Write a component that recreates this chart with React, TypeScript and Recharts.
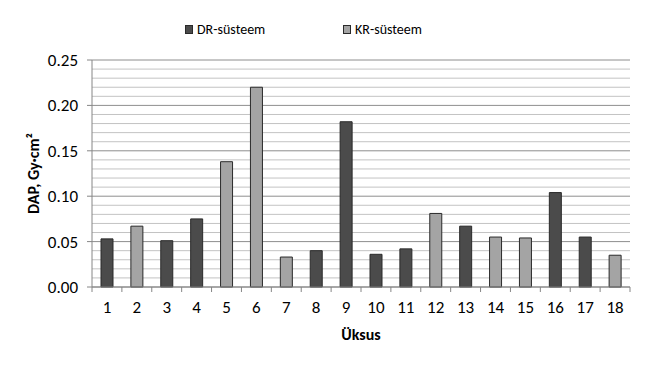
import React from 'react';
import { BarChart, Bar, XAxis, YAxis, CartesianGrid } from 'recharts';

const categories = ['1', '2', '3', '4', '5', '6', '7', '8', '9', '10', '11', '12', '13', '14', '15', '16', '17', '18'];
const drValues: (number | null)[] = [0.053, null, 0.051, 0.075, null, null, null, 0.040, 0.182, 0.036, 0.042, null, 0.067, null, null, 0.104, 0.055, null];
const krValues: (number | null)[] = [null, 0.067, null, null, 0.138, 0.220, 0.033, null, null, null, null, 0.081, null, 0.055, 0.054, null, null, 0.035];
const yTicks = [0, 0.05, 0.1, 0.15, 0.2, 0.25];
const minorGrid = [0.01, 0.02, 0.03, 0.04, 0.06, 0.07, 0.08, 0.09, 0.11, 0.12, 0.13, 0.14, 0.16, 0.17, 0.18, 0.19, 0.21, 0.22, 0.23, 0.24];
const seriesNames = ['DR-süsteem', 'KR-süsteem'];
const Y_MAX = 0.25;

const DR_COLOR = '#4b4b4b';
const KR_COLOR = '#a4a4a4';
const EDGE = '#2a2a2a';
const AXIS = '#868686';
const FONT = 'Carlito, Lato, sans-serif';

const data = categories.map((c, i) => ({ name: c, dr: drValues[i], kr: krValues[i] }));

const XTick = (props: any) => {
  const { x, y, payload, index, width } = props;
  const half = Number.isFinite(width) && width > 0 ? width / categories.length / 2 : (payload && payload.offset) || 0;
  const top = y - 8;
  const lx = x - half;
  return (
    <g>
      <path d={`M${lx},${top}L${lx},${top + 5}`} stroke={AXIS} strokeWidth={1} fill="none" />
      {index === categories.length - 1 && (
        <path d={`M${x + half},${top}L${x + half},${top + 5}`} stroke={AXIS} strokeWidth={1} fill="none" />
      )}
      <text x={x} y={y + 18} textAnchor="middle" fill="#000" fontSize={17} fontFamily={FONT}>
        {payload.value}
      </text>
    </g>
  );
};

const Swatch = ({ color }: { color: string }) => (
  <span style={{ display: 'inline-block', width: 8, height: 9, background: color, border: `1px solid ${EDGE}`, boxSizing: 'border-box', marginRight: 4, verticalAlign: 'middle' }} />
);

export default function App() {
  return (
    <div style={{ position: 'absolute', left: 0, top: 0, width: 649, height: 366, background: '#fff' }}>
      <div style={{ position: 'absolute', left: 185, top: 21, fontFamily: FONT, fontSize: 14, color: '#000', whiteSpace: 'nowrap', lineHeight: '16px' }}>
        <Swatch color={DR_COLOR} />
        <span style={{ verticalAlign: 'middle' }}>{seriesNames[0]}</span>
      </div>
      <div style={{ position: 'absolute', left: 343, top: 21, fontFamily: FONT, fontSize: 14, color: '#000', whiteSpace: 'nowrap', lineHeight: '16px' }}>
        <Swatch color={KR_COLOR} />
        <span style={{ verticalAlign: 'middle' }}>{seriesNames[1]}</span>
      </div>
      <BarChart width={649} height={366} data={data} margin={{ top: 60, right: 19, bottom: 29, left: 0 }} barSize={12}>
        <CartesianGrid
          vertical={false}
          stroke="#c3c3c3"
          horizontalCoordinatesGenerator={({ offset }: any) =>
            minorGrid.map((v) => offset.top + offset.height * (1 - v / Y_MAX))
          }
        />
        <CartesianGrid vertical={false} stroke="#8e8e8e" />
        <XAxis
          dataKey="name"
          height={50}
          axisLine={{ stroke: AXIS }}
          tickLine={false}
          tick={<XTick />}
          interval={0}
          label={{ value: 'Üksus', position: 'insideBottom', offset: -3, fontWeight: 'bold', fontSize: 16, fontFamily: FONT, fill: '#000' }}
        />
        <YAxis
          domain={[0, Y_MAX]}
          ticks={yTicks}
          width={92}
          tickFormatter={(v: number) => v.toFixed(2)}
          tick={{ fill: '#000', fontSize: 17, fontFamily: FONT }}
          axisLine={{ stroke: AXIS }}
          tickLine={{ stroke: AXIS }}
          tickSize={5}
          tickMargin={9}
          label={{ value: 'DAP, Gy·cm²', angle: -90, position: 'insideLeft', offset: 33, fontWeight: 'bold', fontSize: 16, fontFamily: FONT, fill: '#000', style: { textAnchor: 'middle' } }}
        />
        <Bar dataKey="dr" stackId="a" fill={DR_COLOR} stroke={EDGE} strokeWidth={1} isAnimationActive={false} />
        <Bar dataKey="kr" stackId="a" fill={KR_COLOR} stroke={EDGE} strokeWidth={1} isAnimationActive={false} />
      </BarChart>
    </div>
  );
}
